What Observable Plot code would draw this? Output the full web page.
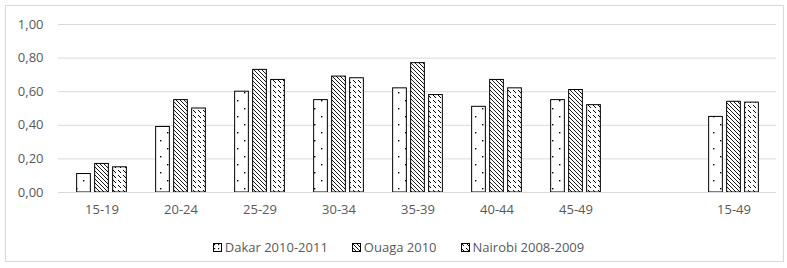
<!DOCTYPE html>
<html><head>
<meta charset="utf-8">
<script src="https://cdn.jsdelivr.net/npm/d3@7"></script>
<script src="https://cdn.jsdelivr.net/npm/@observablehq/plot@0.6"></script>
<style>
body{margin:0;background:#fff;font-family:"Open Sans",sans-serif;}
#frame{position:absolute;left:5px;top:5px;width:779px;height:257px;border:1px solid #d9d9d9;box-sizing:border-box;}
#chart{position:absolute;left:0;top:0;}
#legend{position:absolute;top:238px;left:5px;width:787px;display:flex;justify-content:center;gap:24px;font-size:13px;color:#595959;}
.item{display:flex;align-items:center;gap:3px;}
.item svg{display:block;}
</style>
</head><body>
<div id="frame"></div>
<div id="chart"></div>
<div id="legend"></div>
<script>
const categories = ["15-19","20-24","25-29","30-34","35-39","40-44","45-49"," ","15-49"];
const series = ["Dakar 2010-2011","Ouaga 2010","Nairobi 2008-2009"];
const dakar   = [0.11,0.39,0.60,0.55,0.62,0.51,0.55,null,0.45];
const ouaga   = [0.17,0.55,0.73,0.69,0.77,0.67,0.61,null,0.54];
const nairobi = [0.15,0.50,0.67,0.68,0.58,0.62,0.52,null,0.535];
const yTicks = [0,0.2,0.4,0.6,0.8,1.0];

const patterns = ["url(#pD)","url(#pO)","url(#pN)"];
const valueLists = [dakar, ouaga, nairobi];
const offsets = [-18, 0, 18];

const seriesRows = valueLists.map(vals =>
  categories.map((c,i) => ({cat: c, value: vals[i]})).filter(r => r.value != null));

const bandwidth = (787 - 58 - 11) / categories.length;
const barW = 14.5;
const inset = (bandwidth - barW) / 2;

const plot = Plot.plot({
  width: 787, height: 225,
  marginLeft: 58, marginRight: 11, marginTop: 24, marginBottom: 33,
  style: {fontFamily: '"Open Sans", sans-serif', fontSize: "13px", color: "#595959", background: "transparent"},
  x: {type: "band", domain: categories, padding: 0, label: null, tickSize: 0, tickPadding: 12},
  y: {domain: [0,1], ticks: yTicks, tickFormat: d => d.toFixed(2).replace(".", ","), label: null, tickSize: 0, tickPadding: 15},
  marks: [
    Plot.gridY(yTicks, {stroke: "#d9d9d9", strokeOpacity: 1}),
    ...seriesRows.map((rows, j) => Plot.barY(rows, {
      x: "cat", y: "value", dx: offsets[j], insetLeft: inset, insetRight: inset,
      fill: patterns[j], stroke: "#000", strokeWidth: 1
    })),
    Plot.ruleY([0], {stroke: "#d9d9d9"})
  ]
});

const defs = `
<pattern id="pD" patternUnits="userSpaceOnUse" width="14" height="16">
  <rect width="14" height="16" fill="#fff"/>
  <rect x="3" y="4" width="1.4" height="1.4" fill="#000"/>
  <rect x="10" y="12" width="1.4" height="1.4" fill="#000"/>
</pattern>
<pattern id="pDs" patternUnits="userSpaceOnUse" width="4" height="4">
  <rect width="4" height="4" fill="#fff"/>
  <rect x="1" y="1" width="1.2" height="1.2" fill="#000"/>
</pattern>
<pattern id="pO" patternUnits="userSpaceOnUse" width="4" height="4">
  <rect width="4" height="4" fill="#fff"/>
  <path d="M-1,-1 L5,5 M-1,3 L1,5 M3,-1 L5,1" stroke="#000" stroke-width="0.9"/>
</pattern>
<pattern id="pN" patternUnits="userSpaceOnUse" width="10" height="10">
  <rect width="10" height="10" fill="#fff"/>
  <path d="M0,0 L3,3 M5,5 L8,8 M5,0 L8,3 M0,5 L3,8" stroke="#000" stroke-width="1"/>
</pattern>`;
const svgEl = plot.tagName.toLowerCase() === "svg" ? plot : plot.querySelector("svg");
const d = document.createElementNS("http://www.w3.org/2000/svg","defs");
d.innerHTML = defs;
svgEl.insertBefore(d, svgEl.firstChild);
document.getElementById("chart").appendChild(plot);

const legendFills = ["url(#pDs)","url(#pO)","url(#pN)"];
const leg = document.getElementById("legend");
series.forEach((s,j) => {
  const it = document.createElement("div");
  it.className = "item";
  it.innerHTML = `<svg width="9" height="9"><rect x="0.5" y="0.5" width="8" height="8" fill="${legendFills[j]}" stroke="#000" stroke-width="1"/></svg><span>${s}</span>`;
  leg.appendChild(it);
});
</script>
</body></html>
